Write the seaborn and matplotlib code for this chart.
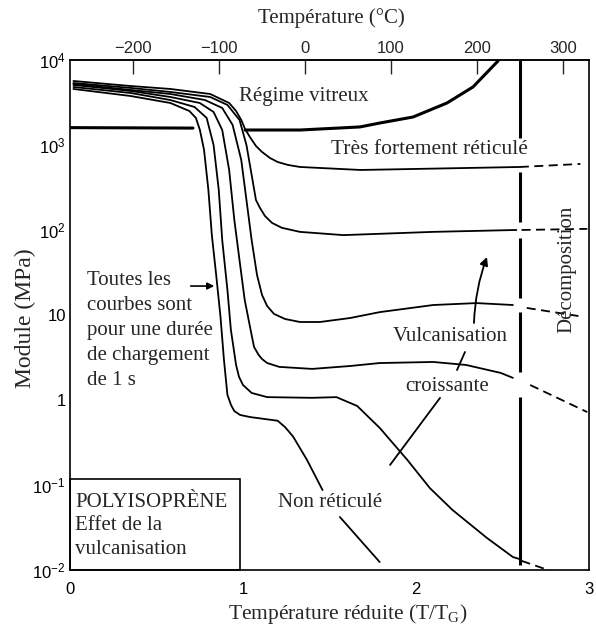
import numpy as np
import pandas as pd
import matplotlib
matplotlib.use("Agg")
import matplotlib.pyplot as plt
import seaborn as sns

# ---------------- data (reduced temperature T/Tg, modulus in MPa) ----------------
TG = 201.0  # K, glass transition used for the top temperature axis

nonret_x1 = [0.02, 0.35, 0.58, 0.69, 0.728, 0.751, 0.775, 0.80, 0.82, 0.845, 0.87, 0.89, 0.91, 0.931, 0.95, 0.983, 1.04, 1.20, 1.243, 1.29, 1.37, 1.46]
nonret_m1 = [4560, 3770, 3120, 2510, 2080, 1500, 873, 296, 87, 29.6, 9.5, 2.96, 1.15, 0.87, 0.74, 0.667, 0.63, 0.57, 0.48, 0.37, 0.197, 0.087]
nonret_x2 = [1.56, 1.79]
nonret_m2 = [0.042, 0.0124]

vulc1_x = [0.02, 0.35, 0.58, 0.72, 0.79, 0.83, 0.86, 0.88, 0.91, 0.93, 0.96, 0.977, 1.0, 1.05, 1.14, 1.40, 1.54, 1.66, 1.79, 1.95, 2.08, 2.21, 2.41, 2.56, 2.595]
vulc1_m = [4810, 4090, 3380, 2800, 2080, 1000, 296, 76, 19.7, 6.7, 2.58, 1.87, 1.5, 1.21, 1.08, 1.06, 1.08, 0.85, 0.47, 0.197, 0.092, 0.051, 0.0238, 0.0142, 0.0135]
vulc1_xd = [2.61, 2.775]
vulc1_md = [0.0128, 0.0098]

vulc2_x = [0.02, 0.35, 0.58, 0.75, 0.83, 0.88, 0.92, 0.95, 0.98, 1.01, 1.05, 1.064, 1.09, 1.11, 1.14, 1.21, 1.40, 1.62, 1.79, 2.10, 2.29, 2.49, 2.56]
vulc2_m = [5080, 4320, 3670, 3120, 2445, 1500, 508, 131, 44, 15, 5.8, 4.2, 3.4, 3.03, 2.72, 2.45, 2.32, 2.51, 2.72, 2.80, 2.58, 2.08, 1.82]
vulc2_xd = [2.66, 2.99]
vulc2_md = [1.50, 0.72]

vulc3_x = [0.02, 0.35, 0.58, 0.78, 0.88, 0.94, 0.99, 1.02, 1.05, 1.081, 1.110, 1.139, 1.179, 1.243, 1.329, 1.445, 1.618, 1.79, 2.10, 2.35, 2.56]
vulc3_m = [5220, 4440, 3980, 3380, 2725, 1720, 666, 225, 76, 29.6, 17.2, 12.8, 10.3, 8.97, 8.27, 8.27, 9.2, 10.8, 13.1, 13.8, 13.1]
vulc3_xd = [2.64, 2.97]
vulc3_md = [12.1, 9.5]

vulc4_x = [0.02, 0.35, 0.58, 0.81, 0.91, 0.98, 1.02, 1.05, 1.075, 1.098, 1.127, 1.168, 1.225, 1.329, 1.58, 2.10, 2.58]
vulc4_m = [5360, 4690, 4205, 3670, 2960, 1970, 1000, 444, 225, 182, 146, 121, 106, 95, 87, 95, 100]
vulc4_xd = [2.61, 2.99]
vulc4_md = [100, 103]

tresfort_x = [0.02, 0.35, 0.58, 0.81, 0.92, 0.96, 0.99, 1.012, 1.04, 1.075, 1.11, 1.156, 1.20, 1.26, 1.33, 1.68, 2.29, 2.60]
tresfort_m = [5660, 4940, 4560, 3980, 3120, 2510, 1970, 1540, 1240, 973, 828, 703, 631, 582, 551, 508, 536, 551]
tresfort_xd = [2.60, 2.95]
tresfort_md = [551, 598]

vitreux_x1 = [0.0, 0.711]
vitreux_m1 = [1600, 1580]
vitreux_x2 = [1.012, 1.329, 1.561, 1.676, 1.792, 1.983, 2.179, 2.329, 2.474]
vitreux_m2 = [1500, 1500, 1585, 1630, 1815, 2133, 3119, 4808, 9727]

decomp_x = 2.60
decomp_segments = [(10000, 1208), (481, 124), (80.5, 15.8), (10.8, 2.13), (1.08, 0.0115)]

x_ticks = [0, 1, 2, 3]
y_ticks = [1e-2, 1e-1, 1, 10, 100, 1000, 10000]
y_tick_labels = [r"$\mathregular{10^{-2}}$", r"$\mathregular{10^{-1}}$", "1", "10",
                 r"$\mathregular{10^{2}}$", r"$\mathregular{10^{3}}$", r"$\mathregular{10^{4}}$"]
top_ticks = [-200, -100, 0, 100, 200, 300]
top_tick_labels = ["\u2212200", "\u2212100", "0", "100", "200", "300"]

# ---------------- long-form table ----------------
segments = [
    ("A1", "solid", nonret_x1, nonret_m1),
    ("A2", "solid", nonret_x2, nonret_m2),
    ("B", "solid", vulc1_x, vulc1_m), ("Bd", "dashed", vulc1_xd, vulc1_md),
    ("C", "solid", vulc2_x, vulc2_m), ("Cd", "dashed", vulc2_xd, vulc2_md),
    ("D", "solid", vulc3_x, vulc3_m), ("Dd", "dashed", vulc3_xd, vulc3_md),
    ("E", "solid", vulc4_x, vulc4_m), ("Ed", "dashed", vulc4_xd, vulc4_md),
    ("F", "solid", tresfort_x, tresfort_m), ("Fd", "dashed", tresfort_xd, tresfort_md),
    ("G1", "bold", vitreux_x1, vitreux_m1), ("G2", "bold", vitreux_x2, vitreux_m2),
]
rows = []
for seg, kind, xs, ms in segments:
    for xv, mv in zip(xs, ms):
        rows.append({"x": xv, "M": mv, "seg": seg, "kind": kind})
df = pd.DataFrame(rows)

# ---------------- figure ----------------
sns.set_style("white")
plt.rcParams["font.family"] = ["Liberation Serif", "DejaVu Serif"]
plt.rcParams["mathtext.fontset"] = "custom"
plt.rcParams["mathtext.rm"] = "Liberation Serif"

fig = plt.figure(figsize=(5.96, 6.28), dpi=100)
ax = fig.add_axes([0.1174, 0.0924, 0.8709, 0.8121])

common = dict(x="x", y="M", units="seg", estimator=None, sort=False, color="black", ax=ax, legend=False)
sns.lineplot(data=df[df.kind == "solid"], lw=1.3, **common)
sns.lineplot(data=df[df.kind == "dashed"], lw=1.3, linestyle=(0, (5, 3)), **common)
sns.lineplot(data=df[df.kind == "bold"], lw=2.2, **common)

# decomposition line
for top, bot in decomp_segments:
    ax.plot([decomp_x, decomp_x], [bot, top], color="black", lw=2.2, solid_capstyle="butt")

ax.set_yscale("log")
ax.set_xlim(0, 3)
ax.set_ylim(1e-2, 1e4)
ax.set_xticks(x_ticks)
ax.set_xticklabels([str(t) for t in x_ticks])
ax.set_yticks(y_ticks)
ax.set_yticklabels(y_tick_labels)
ax.minorticks_off()
ax.tick_params(axis="both", direction="in", length=9.5, width=1.0, color="black",
               labelsize=12, labelcolor="black", labelfontfamily="Liberation Sans")
ax.tick_params(axis="x", pad=9)
ax.tick_params(axis="y", pad=3)
ax.set_xlabel("")
ax.set_ylabel("")
for s in ax.spines.values():
    s.set_color("black")
    s.set_linewidth(1.2)

secax = ax.secondary_xaxis("top", functions=(lambda r: r * TG - 273.0, lambda t: (t + 273.0) / TG))
secax.set_xticks(top_ticks)
secax.set_xticklabels(top_tick_labels)
secax.tick_params(direction="in", length=10, width=1.0, labelsize=12, pad=3,
                  labelfontfamily="Liberation Sans")
secax.spines["top"].set_linewidth(1.2)

fig.text(331 / 596, 1 - 18 / 628, "Température (°C)", ha="center", va="center", fontsize=15)
fig.text(348 / 596, 1 - 614 / 628, r"Température réduite (T/T$_{\mathregular{G}}$)",
         ha="center", va="center", fontsize=15.5)
fig.text(25 / 596, 1 - 318 / 628, "Module (MPa)", ha="center", va="center", fontsize=17, rotation=90)

# annotations
fs = 15
ax.text(1.353, 3670, "Régime vitreux", ha="center", va="center", fontsize=fs)
ax.text(2.08, 873, "Très fortement réticulé", ha="center", va="center", fontsize=15.5)
ax.text(0.098, 6.6, "Toutes les\ncourbes sont\npour une durée\nde chargement\nde 1 s",
        ha="left", va="center", fontsize=fs, linespacing=1.43)
ax.text(2.197, 5.51, "Vulcanisation", ha="center", va="center", fontsize=fs)
ax.text(2.179, 1.46, "croissante", ha="center", va="center", fontsize=fs)
ax.text(1.503, 0.0614, "Non réticulé", ha="center", va="center", fontsize=fs)
ax.text(2.873, 34.8, "Décomposition", ha="center", va="center", fontsize=fs, rotation=90)

ax.annotate("", xy=(0.85, 21.9), xytext=(0.682, 21.9),
            arrowprops=dict(arrowstyle="-|>", color="black", lw=1.2, mutation_scale=10))
ax.plot([1.850, 2.139], [0.172, 1.06], color="black", lw=1.3)
ax.plot([2.237, 2.283], [2.25, 3.67], color="black", lw=1.3)
ax.annotate("", xy=(2.41, 48.1), xytext=(2.335, 8.05),
            arrowprops=dict(arrowstyle="-|>", color="black", lw=1.3, mutation_scale=12,
                            connectionstyle="arc3,rad=-0.08", shrinkA=0, shrinkB=0))

# legend box
ax.add_patch(plt.Rectangle((0, 0), 0.3276, 0.178, transform=ax.transAxes,
                           fill=False, edgecolor="black", lw=1.2, clip_on=False))
ax.text(0.01, 0.151, "POLYISOPRÈNE\nEffet de la\nvulcanisation", transform=ax.transAxes,
        ha="left", va="top", fontsize=fs, linespacing=1.31)

fig.savefig("out.png", dpi=100)
